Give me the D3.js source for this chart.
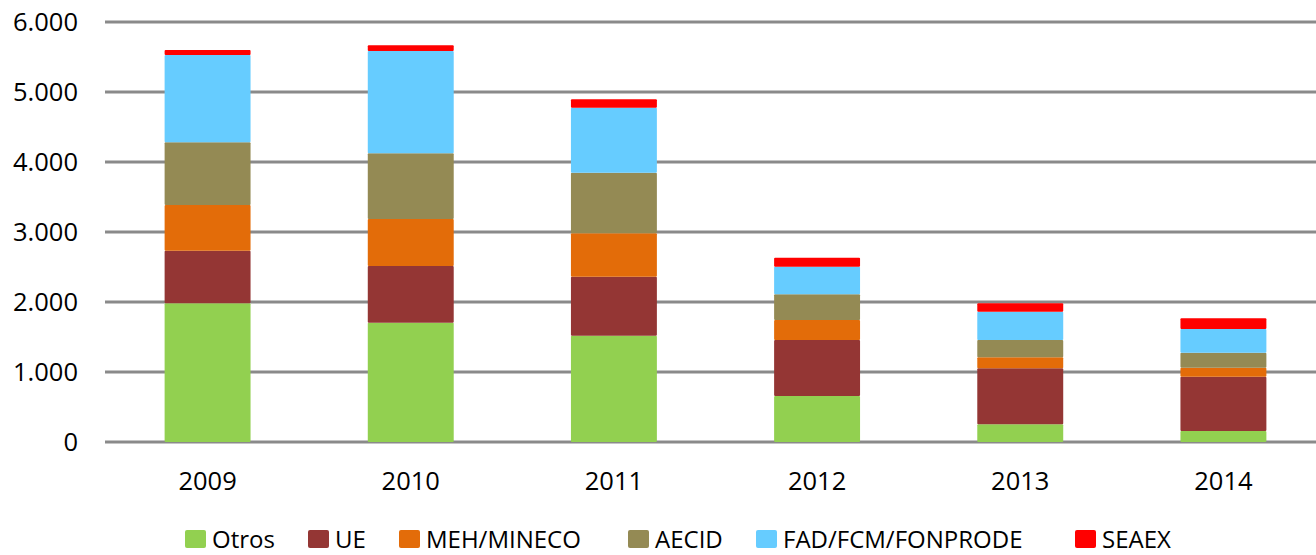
<!DOCTYPE html>
<html>
<head>
<meta charset="utf-8">
<script src="https://cdn.jsdelivr.net/npm/d3@7"></script>
<style>
  body { margin: 0; background: #fff; }
  text { font-family: "Open Sans", sans-serif; fill: #000; }
</style>
</head>
<body>
<div id="chart"></div>
<script>
// data
var years = ["2009", "2010", "2011", "2012", "2013", "2014"];
var seriesNames = ["Otros", "UE", "MEH/MINECO", "AECID", "FAD/FCM/FONPRODE", "SEAEX"];
var otros  = [1981, 1704, 1519, 657, 253, 157];
var ue     = [752, 810, 843, 800, 800, 776];
var meh    = [653, 672, 619, 286, 157, 128];
var aecid  = [895, 938, 866, 367, 247, 215];
var fad    = [1248, 1462, 929, 394, 404, 338];
var seaex  = [71, 81, 119, 129, 120, 153];
var yTicks = [0, 1000, 2000, 3000, 4000, 5000, 6000];
var colors = ["#92D050", "#943634", "#E36C09", "#948A54", "#66CCFF", "#FF0000"];

var svgWidth = 1316;
var svgHeight = 555;

var svg = d3.select("#chart")
    .append("svg")
    .attr("width", svgWidth)
    .attr("height", svgHeight);

// build rows for the stack
var table = years.map(function(y, i) {
    return {
        year: y,
        "Otros": otros[i],
        "UE": ue[i],
        "MEH/MINECO": meh[i],
        "AECID": aecid[i],
        "FAD/FCM/FONPRODE": fad[i],
        "SEAEX": seaex[i]
    };
});

var stacked = d3.stack().keys(seriesNames)(table);

var xScale = d3.scaleBand()
    .domain(years)
    .range([106, 1325])
    .paddingInner(0.577)
    .paddingOuter(0.2885);

var yScale = d3.scaleLinear()
    .domain([0, 6000])
    .range([442, 22]);

var fmt = function(d) {
    return d3.format(",")(d).replace(/,/g, ".");
};

// gridlines
svg.append("g")
    .selectAll("line")
    .data(yTicks)
    .enter()
    .append("line")
    .attr("x1", 105)
    .attr("x2", svgWidth)
    .attr("y1", d => yScale(d))
    .attr("y2", d => yScale(d))
    .attr("stroke", "#8a8a8a")
    .attr("stroke-width", 3);

// y labels
svg.append("g")
    .selectAll("text")
    .data(yTicks)
    .enter()
    .append("text")
    .attr("x", 78)
    .attr("y", d => yScale(d))
    .attr("dy", "0.36em")
    .attr("text-anchor", "end")
    .style("font-size", "25.5px")
    .text(d => fmt(d));

// bars
var layers = svg.append("g")
    .selectAll("g")
    .data(stacked)
    .enter()
    .append("g")
    .attr("fill", (d, i) => colors[i]);

layers.selectAll("rect")
    .data(d => d)
    .enter()
    .append("rect")
    .attr("x", d => xScale(d.data.year))
    .attr("width", xScale.bandwidth())
    .attr("y", d => yScale(d[1]))
    .attr("height", d => yScale(d[0]) - yScale(d[1]))
    .attr("rx", 1);

// x labels
svg.append("g")
    .selectAll("text")
    .data(years)
    .enter()
    .append("text")
    .attr("x", d => xScale(d) + xScale.bandwidth() / 2)
    .attr("y", 490)
    .attr("text-anchor", "middle")
    .style("font-size", "25.5px")
    .text(d => d);

// legend
var legendX = [185, 308, 399, 628, 756, 1075];
var legend = svg.append("g")
    .selectAll("g")
    .data(seriesNames)
    .enter()
    .append("g")
    .attr("transform", (d, i) => `translate(${legendX[i]}, 530)`);

legend.append("rect")
    .attr("width", 21)
    .attr("height", 18)
    .attr("rx", 2)
    .attr("fill", (d, i) => colors[i]);

legend.append("text")
    .attr("x", 27)
    .attr("y", 18)
    .style("font-size", "24px")
    .text(d => d);
</script>
</body>
</html>
